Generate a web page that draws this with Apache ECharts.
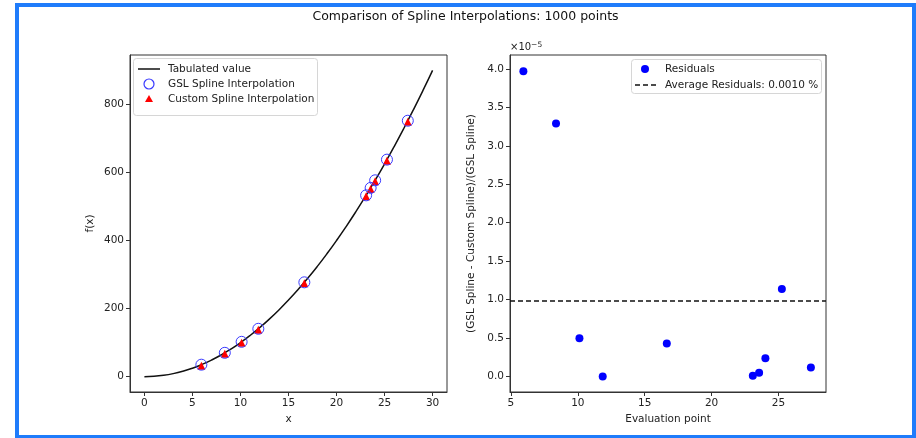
<!DOCTYPE html>
<html>
<head>
<meta charset="utf-8">
<script src="https://cdn.jsdelivr.net/npm/echarts@6/dist/echarts.min.js"></script>
<style>
  html, body { margin: 0; padding: 0; background: #fff; }
  #chart { width: 916px; height: 438px; }
</style>
</head>
<body>
<div id="chart"></div>
<script>
// 表にした値（x と f(x)）
const tableX = [0, 1, 2, 3, 4, 5, 6, 7, 8, 9, 10, 11, 12, 13, 14, 15, 16, 17, 18, 19, 20, 21, 22, 23, 24, 25, 26, 27, 28, 29, 30];
const tableY = [0, 1, 4, 9, 16, 25, 36, 49, 64, 81, 100, 121, 144, 169, 196, 225, 256, 289, 324, 361, 400, 441, 484, 529, 576, 625, 676, 729, 784, 841, 900];

// 評価点とそれぞれの補間値
const evalX = [5.93, 8.37, 10.12, 11.86, 16.65, 23.08, 23.55, 24.02, 25.25, 27.42];
const gslY = [35.2, 70.1, 102.4, 140.7, 277.2, 532.7, 554.6, 576.9, 637.6, 751.9];
const customY = [35.2, 70.1, 102.4, 140.7, 277.2, 532.7, 554.6, 576.9, 637.6, 751.9];

// 残差（×10^-5）と平均
const residuals = [3.97, 3.29, 0.50, 0.00, 0.43, 0.01, 0.05, 0.24, 1.14, 0.12];
const avgResidual = 0.98;

// 目盛り
const leftXTicks = [0, 5, 10, 15, 20, 25, 30];
const leftYTicks = [0, 200, 400, 600, 800];
const rightXTicks = [5, 10, 15, 20, 25];
const rightYTicks = [0, 0.5, 1.0, 1.5, 2.0, 2.5, 3.0, 3.5, 4.0];

// 凡例の文字
const leftLegendNames = ['Tabulated value', 'GSL Spline Interpolation', 'Custom Spline Interpolation'];
const rightLegendNames = ['Residuals', 'Average Residuals: 0.0010 %'];

const font = 'DejaVu Sans';
const textColor = '#222';
const gslColor = '#3a3aff';

const chart = echarts.init(document.querySelector('#chart'));

// 軸の共通設定
const axisBase = (ticks, fmt) => ({
  type: 'value',
  splitLine: { show: false },
  axisLine: { show: true, onZero: false, lineStyle: { color: '#333', width: 1 } },
  axisTick: { show: true, inside: false, length: 4, customValues: ticks, lineStyle: { color: '#333' } },
  axisLabel: {
    customValues: ticks, color: textColor, fontFamily: font, fontSize: 10.5, margin: 6,
    formatter: fmt
  },
  nameTextStyle: { color: textColor, fontFamily: font, fontSize: 10.5 }
});

const pair = (xs, ys) => xs.map((x, i) => [x, ys[i]]);

// 凡例の文字要素
const legendText = (x, y, text) => ({
  type: 'text', x: x, y: y, z: 51,
  style: { text: text, fill: textColor, font: '10.5px "DejaVu Sans"', textVerticalAlign: 'middle' }
});

const option = {
  animation: false,
  backgroundColor: '#fff',
  grid: [
    { left: 130, top: 55, width: 317, height: 337, show: true, borderColor: '#333', borderWidth: 1 },
    { left: 510, top: 55, width: 316, height: 337, show: true, borderColor: '#333', borderWidth: 1 }
  ],
  xAxis: [
    Object.assign(axisBase(leftXTicks, v => String(v)), {
      gridIndex: 0, min: -1.5, max: 31.5, name: 'x', nameLocation: 'middle', nameGap: 19
    }),
    Object.assign(axisBase(rightXTicks, v => String(v)), {
      gridIndex: 1, min: 4.93, max: 28.55, name: 'Evaluation point', nameLocation: 'middle', nameGap: 19
    })
  ],
  yAxis: [
    Object.assign(axisBase(leftYTicks, v => String(v)), {
      gridIndex: 0, min: -45, max: 945, name: 'f(x)', nameLocation: 'middle', nameGap: 34
    }),
    Object.assign(axisBase(rightYTicks, v => v.toFixed(1)), {
      gridIndex: 1, min: -0.2, max: 4.18,
      name: '(GSL Spline - Custom Spline)/(GSL Spline)', nameLocation: 'middle', nameGap: 33
    })
  ],
  series: [
    {
      name: leftLegendNames[0], type: 'line', xAxisIndex: 0, yAxisIndex: 0,
      data: pair(tableX, tableY), smooth: true, symbol: 'none',
      lineStyle: { color: '#111', width: 1.5 }
    },
    {
      name: leftLegendNames[2], type: 'scatter', xAxisIndex: 0, yAxisIndex: 0,
      data: pair(evalX, customY), symbol: 'triangle', symbolSize: 8, symbolOffset: [0, 1],
      itemStyle: { color: '#ff0000', opacity: 1 }, z: 3
    },
    {
      name: leftLegendNames[1], type: 'scatter', xAxisIndex: 0, yAxisIndex: 0,
      data: pair(evalX, gslY), symbol: 'circle', symbolSize: 11,
      itemStyle: { color: 'rgba(0,0,0,0)', borderColor: gslColor, borderWidth: 1, opacity: 1 }, z: 4
    },
    {
      name: rightLegendNames[0], type: 'scatter', xAxisIndex: 1, yAxisIndex: 1,
      data: pair(evalX, residuals), symbolSize: 8,
      itemStyle: { color: '#0000ff', opacity: 1 }
    },
    {
      name: rightLegendNames[1], type: 'line', xAxisIndex: 1, yAxisIndex: 1,
      data: [], symbol: 'none',
      markLine: {
        silent: true, symbol: 'none', label: { show: false },
        lineStyle: { color: '#111', width: 1.5, type: [5, 3] },
        data: [{ yAxis: avgResidual }]
      }
    }
  ],
  graphic: [
    // 外枠
    {
      type: 'rect', shape: { x: 17, y: 5, width: 897, height: 432 },
      style: { fill: 'none', stroke: '#1f7cfb', lineWidth: 4 }, z: 100
    },
    // タイトル
    {
      type: 'text', x: 465.5, y: 17,
      style: {
        text: 'Comparison of Spline Interpolations: 1000 points',
        font: '12.5px "DejaVu Sans"', fill: '#111', textAlign: 'center', textVerticalAlign: 'middle'
      }
    },
    // 右のグラフの指数表記
    {
      type: 'text', x: 510, y: 41,
      style: {
        text: '×10{sup|−5}', fill: textColor, fontFamily: font, fontSize: 10,
        rich: { sup: { fontSize: 7.5, verticalAlign: 'top', padding: [0, 0, 5, 0], fontFamily: font, fill: textColor } }
      }
    },
    // 左の凡例
    {
      type: 'rect', z: 50, shape: { x: 133.5, y: 58.5, width: 184, height: 57, r: 3 },
      style: { fill: 'rgba(255,255,255,0.85)', stroke: '#d6d6d6', lineWidth: 1 }
    },
    {
      type: 'line', z: 51, shape: { x1: 138, y1: 69, x2: 160, y2: 69 },
      style: { stroke: '#111', lineWidth: 1.5 }
    },
    {
      type: 'circle', z: 51, shape: { cx: 149, cy: 84, r: 5 },
      style: { fill: 'none', stroke: gslColor, lineWidth: 1.2 }
    },
    {
      type: 'polygon', z: 51, shape: { points: [[149, 95], [153, 102], [145, 102]] },
      style: { fill: '#ff0000' }
    },
    legendText(168, 69, leftLegendNames[0]),
    legendText(168, 84, leftLegendNames[1]),
    legendText(168, 99, leftLegendNames[2]),
    // 右の凡例
    {
      type: 'rect', z: 50, shape: { x: 631.5, y: 59.5, width: 190, height: 34, r: 3 },
      style: { fill: 'rgba(255,255,255,0.85)', stroke: '#d6d6d6', lineWidth: 1 }
    },
    {
      type: 'circle', z: 51, shape: { cx: 645, cy: 69, r: 4 },
      style: { fill: '#0000ff' }
    },
    {
      type: 'line', z: 51, shape: { x1: 635, y1: 85, x2: 656, y2: 85 },
      style: { stroke: '#111', lineWidth: 1.5, lineDash: [5, 3] }
    },
    legendText(665, 69, rightLegendNames[0]),
    legendText(665, 85, rightLegendNames[1])
  ]
};

chart.setOption(option);
</script>
</body>
</html>
